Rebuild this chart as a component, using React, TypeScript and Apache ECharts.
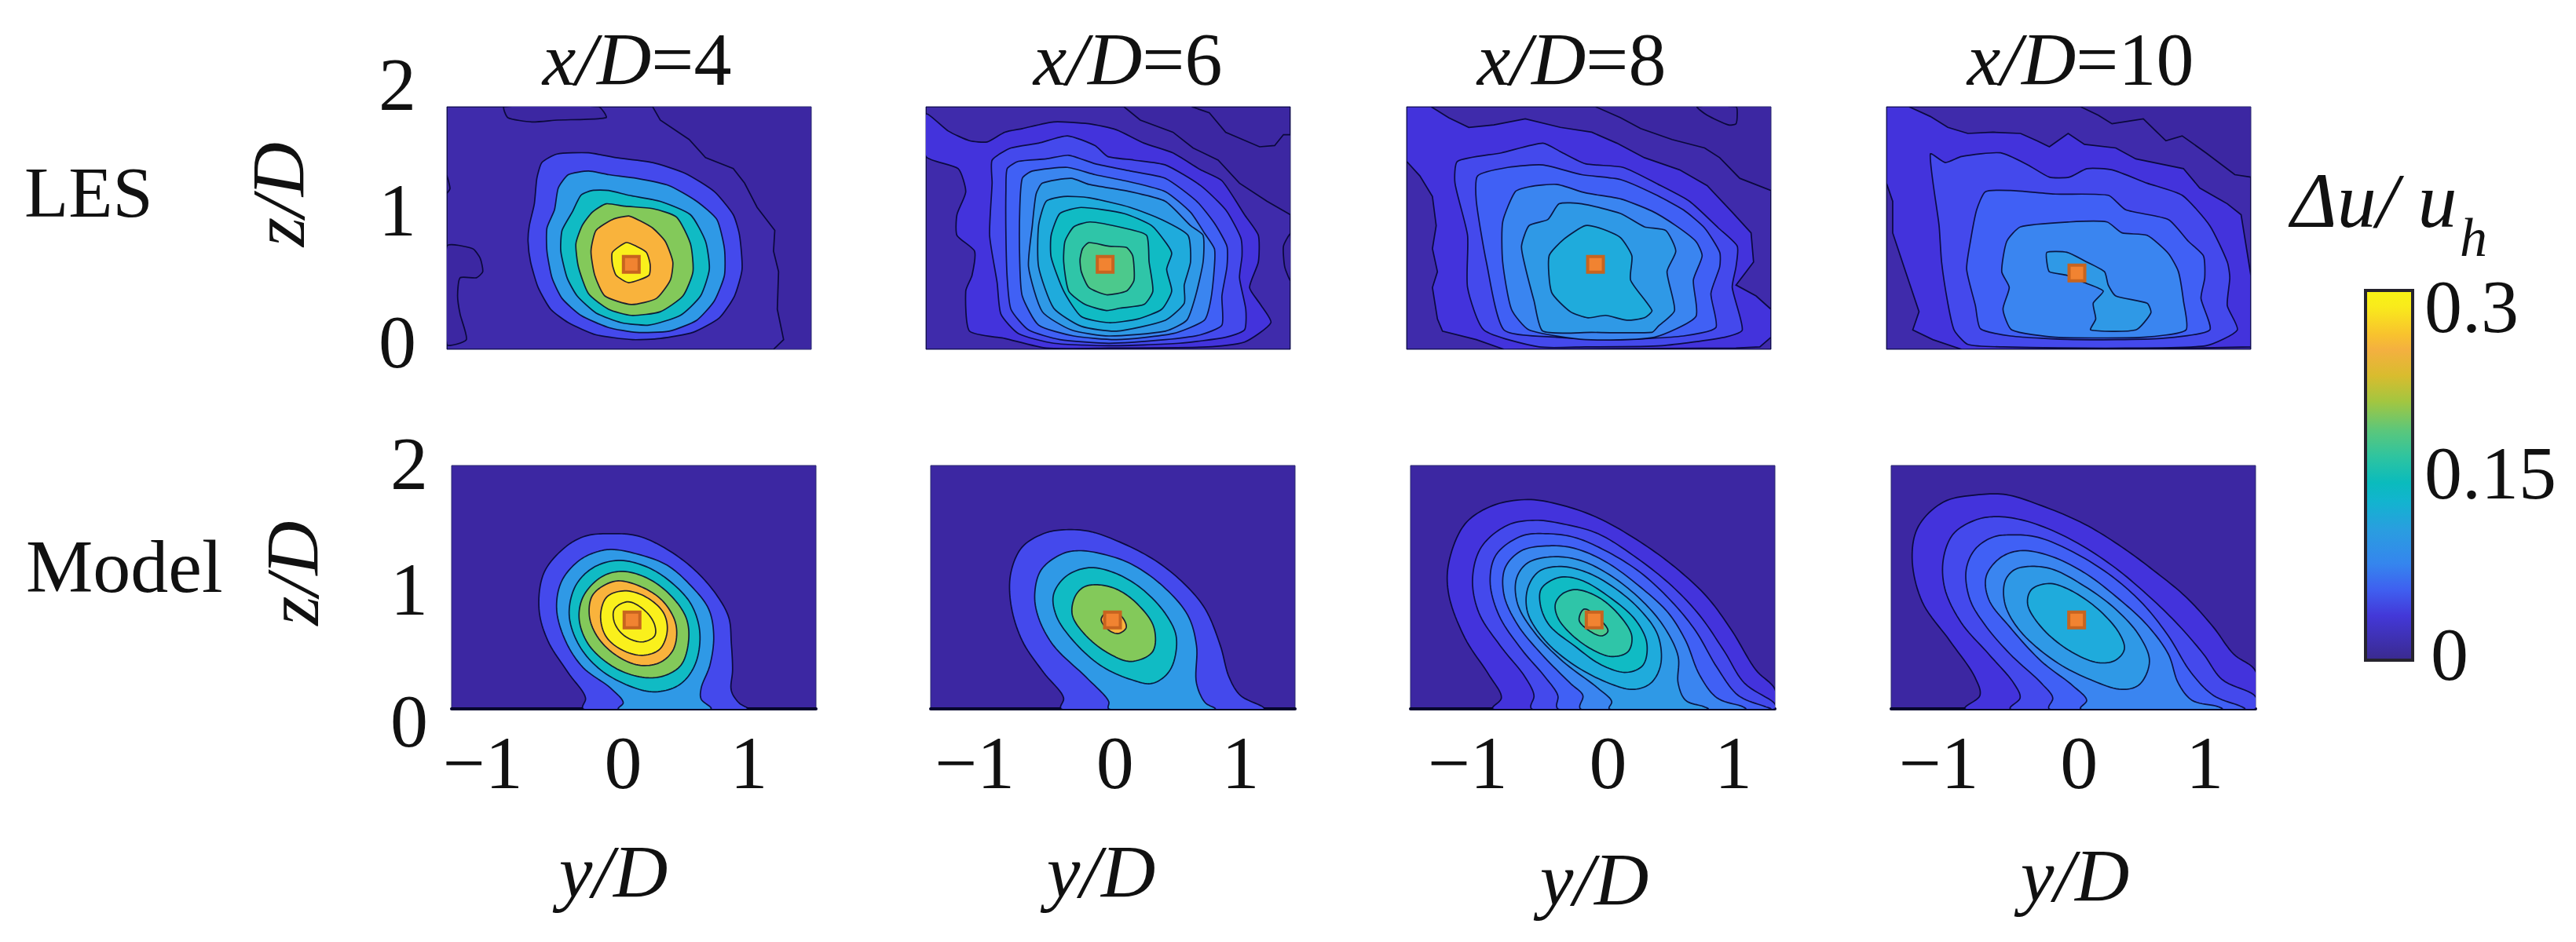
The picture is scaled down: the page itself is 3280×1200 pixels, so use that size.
import React, { useEffect, useRef } from "react";
import * as echarts from "echarts";

const FONT = "Liberation Serif";

// colour of each contour level (filled bands), low to high
const levelColors = ["#3C27A2", "#3F2BAB", "#4333DC", "#4449EC", "#4060F5", "#3A85F0", "#2F99E6", "#1FABDC", "#10BBC4", "#2FC5A8", "#4CC98C", "#83C95A", "#F9B33C", "#FAF01C"];

const colorbarOffsets = [0, 0.12, 0.19, 0.26, 0.35, 0.43, 0.48, 0.55, 0.62, 0.7, 0.77, 0.84, 0.88, 0.955, 1];
const colorbarColors = ["#3A2A8E", "#4338D8", "#3F5FF0", "#3585EE", "#2A9DE0", "#12B4CF", "#0ABBBD", "#2EC4A0", "#5AC77C", "#A3C640", "#D9BC2E", "#F4B040", "#F8C22E", "#F9EA1C", "#F8F414"];
// where the reference prints its colour-bar labels along the bar, and what they say
const colorbarLabelAt = [0.0045, 0.152, 0.287];
const colorbarLabels = ["0", "0.15", "0.3"];

const xTicks = [-1, 0, 1];
const zTicks = [0, 1, 2];
const xLimits = [[-1.425, 1.47], [-1.427, 1.475], [-1.506, 1.399], [-1.52, 1.388], [-1.366, 1.534], [-1.47, 1.436], [-1.575, 1.332], [-1.497, 1.405]];
const stations = ["4", "6", "8", "10"];
const hubs = [[0.04, 0.7], [0, 0.7], [0, 0.7], [0, 0.63], [0.07, 0.73], [-0.02, 0.73], [-0.11, 0.73], [-0.02, 0.73]];

// LES x/D=4
const les4Levels = [1, 0, 0, 0, 3, 6, 8, 11, 12, 13];
const les4 = [
  [[0.21,2],[0.27,1.89],[0.5,1.73],[0.63,1.58],[0.85,1.49],[0.94,1.37],[1.04,1.17],[1.18,0.98],[1.17,0.81],[1.21,0.64],[1.2,0.33],[1.25,0.08],[1.17,0],[-1.425,0],[-1.425,2]],
  [[-0.97,2],[-0.94,1.91],[-0.75,1.875],[-0.55,1.89],[-0.16,1.91],[-0.22,2]],
  [[-1.425,0.85],[-1.22,0.83],[-1.16,0.75],[-1.14,0.64],[-1.19,0.59],[-1.32,0.59],[-1.34,0.44],[-1.32,0.29],[-1.27,0.08],[-1.425,0.04]],
  [[-1.425,1.43],[-1.4,1.325],[-1.425,1.29]],
  [[-0.3,1.62],[-0.55,1.61],[-0.67,1.54],[-0.71,1.41],[-0.73,1.2],[-0.77,1.02],[-0.78,0.89],[-0.76,0.72],[-0.7,0.51],[-0.6,0.33],[-0.46,0.22],[-0.24,0.12],[0.05,0.08],[0.27,0.09],[0.53,0.14],[0.74,0.26],[0.86,0.44],[0.92,0.66],[0.9,0.94],[0.85,1.11],[0.7,1.3],[0.47,1.45],[0.21,1.54],[-0.08,1.58]],
  [[-0.3,1.47],[-0.46,1.44],[-0.54,1.33],[-0.57,1.15],[-0.63,1],[-0.63,0.81],[-0.59,0.59],[-0.51,0.42],[-0.36,0.28],[-0.14,0.18],[0.08,0.14],[0.34,0.15],[0.56,0.24],[0.7,0.4],[0.78,0.61],[0.78,0.83],[0.72,1.07],[0.56,1.22],[0.34,1.35],[0.08,1.41],[-0.14,1.44]],
  [[-0.27,1.31],[-0.36,1.27],[-0.43,1.13],[-0.51,0.98],[-0.52,0.81],[-0.47,0.59],[-0.39,0.44],[-0.24,0.3],[-0.04,0.22],[0.18,0.2],[0.43,0.28],[0.59,0.44],[0.66,0.66],[0.63,0.89],[0.51,1.11],[0.27,1.22],[0.02,1.27],[-0.14,1.31]],
  [[-0.16,1.2],[-0.27,1.13],[-0.35,1.02],[-0.4,0.87],[-0.38,0.68],[-0.3,0.46],[-0.14,0.33],[0.04,0.28],[0.27,0.31],[0.45,0.44],[0.53,0.64],[0.51,0.87],[0.4,1.09],[0.21,1.16],[-0.01,1.18]],
  [[0.02,1.1],[-0.11,1.07],[-0.24,0.98],[-0.28,0.81],[-0.25,0.61],[-0.17,0.44],[0.04,0.37],[0.24,0.42],[0.35,0.57],[0.37,0.72],[0.31,0.89],[0.21,1],[0.11,1.06]],
  [[0,0.88],[-0.11,0.8],[-0.11,0.7],[-0.08,0.61],[0.02,0.55],[0.18,0.61],[0.19,0.7],[0.16,0.8],[0.08,0.85]],
];

// LES x/D=6
const les6Levels = [1, 0, 0, 2, 3, 4, 5, 6, 7, 8, 9, 10];
const les6 = [
  [[0.15,2],[0.28,1.89],[0.54,1.79],[0.7,1.66],[0.9,1.56],[1.07,1.37],[1.29,1.22],[1.475,1.11],[1.475,0],[-1.427,0],[-1.427,2]],
  [[0.69,2],[0.83,1.95],[0.96,1.79],[1.23,1.67],[1.35,1.68],[1.42,1.77],[1.475,1.77],[1.475,2]],
  [[1.475,0.95],[1.42,0.85],[1.43,0.68],[1.475,0.57]],
  [[-1.427,1.94],[-1.25,1.8],[-1.08,1.72],[-0.94,1.71],[-0.8,1.79],[-0.66,1.82],[-0.41,1.875],[-0.13,1.86],[0.09,1.81],[0.31,1.7],[0.54,1.62],[0.76,1.48],[0.93,1.39],[1.11,1.11],[1.22,0.94],[1.22,0.72],[1.15,0.51],[1.23,0.38],[1.32,0.22],[1.11,0.06],[0.82,0.02],[0.03,0.01],[-0.47,0.01],[-0.8,0.09],[-1.08,0.15],[-1.11,0.48],[-1.06,0.61],[-1.04,0.81],[-1.18,0.94],[-1.18,1.11],[-1.11,1.3],[-1.17,1.49],[-1.427,1.59]],
  [[-0.9,1.56],[-0.75,1.66],[-0.53,1.7],[-0.3,1.76],[-0.08,1.68],[0.02,1.59],[0.23,1.56],[0.48,1.52],[0.76,1.35],[0.96,1.15],[1.08,0.92],[1.09,0.77],[1.07,0.59],[1.12,0.33],[1.11,0.16],[0.96,0.1],[0.59,0.05],[0.03,0.03],[-0.41,0.05],[-0.69,0.13],[-0.83,0.29],[-0.86,0.55],[-0.92,0.94],[-0.9,1.37]],
  [[-0.78,1.49],[-0.69,1.55],[-0.47,1.57],[-0.29,1.6],[-0.08,1.53],[0.2,1.47],[0.48,1.41],[0.73,1.22],[0.87,1.04],[0.97,0.85],[0.97,0.68],[0.93,0.44],[0.93,0.2],[0.76,0.12],[0.48,0.08],[0.03,0.05],[-0.36,0.08],[-0.61,0.16],[-0.75,0.33],[-0.78,0.59],[-0.79,0.94],[-0.79,1.31]],
  [[-0.66,1.41],[-0.58,1.47],[-0.3,1.5],[-0.08,1.44],[0.2,1.38],[0.48,1.3],[0.68,1.13],[0.79,0.96],[0.87,0.83],[0.87,0.68],[0.84,0.4],[0.79,0.24],[0.54,0.13],[0.09,0.08],[-0.25,0.11],[-0.53,0.2],[-0.66,0.44],[-0.68,0.72],[-0.68,1.15]],
  [[-0.55,1.28],[-0.5,1.37],[-0.27,1.41],[-0.13,1.36],[0.2,1.3],[0.48,1.22],[0.68,1.02],[0.78,0.94],[0.78,0.72],[0.72,0.44],[0.65,0.24],[0.48,0.15],[0.03,0.11],[-0.27,0.16],[-0.5,0.31],[-0.61,0.68],[-0.58,1.02]],
  [[-0.47,1.22],[-0.33,1.26],[-0.13,1.25],[0.2,1.17],[0.45,1.07],[0.66,0.94],[0.68,0.72],[0.63,0.53],[0.63,0.38],[0.48,0.24],[0.09,0.15],[-0.19,0.19],[-0.41,0.34],[-0.53,0.68],[-0.53,1.02]],
  [[-0.36,1.12],[-0.19,1.17],[0.15,1.12],[0.37,1.02],[0.49,0.87],[0.53,0.79],[0.49,0.66],[0.53,0.48],[0.45,0.33],[0.26,0.25],[0.03,0.22],[-0.19,0.27],[-0.33,0.48],[-0.43,0.76],[-0.43,0.94]],
  [[-0.25,1.01],[-0.12,1.05],[0.15,1],[0.33,0.94],[0.35,0.72],[0.38,0.48],[0.31,0.37],[0.12,0.34],[0.01,0.32],[-0.16,0.37],[-0.29,0.48],[-0.33,0.72],[-0.32,0.89]],
  [[-0.13,0.88],[0.03,0.85],[0.17,0.84],[0.22,0.77],[0.23,0.57],[0.17,0.48],[0.01,0.45],[-0.13,0.51],[-0.19,0.64],[-0.2,0.74],[-0.18,0.83]],
];

// LES x/D=8
const les8Levels = [1, 0, 2, 3, 4, 5, 6, 7];
const les8 = [
  [[0,2],[0.2,1.91],[0.36,1.82],[0.61,1.73],[0.87,1.66],[0.99,1.58],[1.15,1.41],[1.399,1.31],[1.399,0],[-1.506,0],[-1.506,2]],
  [[0.81,2],[0.89,1.93],[1.06,1.85],[1.12,1.86],[1.13,1.95],[1.12,2]],
  [[-1.506,2],[-1.31,2],[-1.17,1.91],[-1.01,1.83],[-0.81,1.85],[-0.56,1.9],[-0.28,1.83],[-0.03,1.79],[0.17,1.7],[0.39,1.58],[0.67,1.48],[0.89,1.35],[1.09,1.13],[1.24,0.96],[1.26,0.72],[1.12,0.53],[1.28,0.44],[1.399,0.33],[1.399,0.1],[1.31,0.02],[1.12,0.01],[-0.73,0],[-0.95,0.08],[-1.22,0.15],[-1.26,0.25],[-1.3,0.51],[-1.26,0.64],[-1.3,0.83],[-1.27,1.02],[-1.3,1.26],[-1.4,1.43],[-1.506,1.55]],
  [[-1.1,1.55],[-0.75,1.62],[-0.42,1.7],[-0.28,1.63],[-0.08,1.53],[0.22,1.5],[0.5,1.36],[0.75,1.22],[0.98,1],[1.13,0.85],[1.12,0.68],[1.09,0.51],[1.17,0.16],[1.03,0.1],[0.53,0.03],[-0.08,0.02],[-0.45,0.02],[-0.89,0.16],[-1.02,0.51],[-1.02,0.94],[-1.12,1.37]],
  [[-0.94,1.43],[-0.7,1.5],[-0.42,1.52],[-0.11,1.44],[0.2,1.4],[0.47,1.28],[0.7,1.15],[0.87,1],[0.99,0.8],[0.99,0.68],[0.92,0.46],[0.96,0.18],[0.7,0.11],[0.2,0.08],[-0.31,0.1],[-0.73,0.16],[-0.87,0.72],[-0.95,1.22]],
  [[-0.64,1.3],[-0.53,1.34],[-0.31,1.36],[-0.08,1.29],[0.2,1.24],[0.45,1.14],[0.64,1.02],[0.8,0.89],[0.85,0.77],[0.78,0.57],[0.8,0.27],[0.47,0.1],[-0.08,0.08],[-0.53,0.16],[-0.67,0.33],[-0.74,0.72],[-0.74,1.05]],
  [[-0.53,1.02],[-0.38,1.07],[-0.29,1.2],[-0.11,1.2],[0.2,1.12],[0.39,1.01],[0.56,0.98],[0.64,0.81],[0.57,0.64],[0.63,0.32],[0.5,0.19],[0.45,0.14],[-0.03,0.14],[-0.42,0.15],[-0.49,0.4],[-0.56,0.68],[-0.59,0.85]],
  [[-0.08,1.02],[0.06,0.99],[0.2,0.92],[0.29,0.77],[0.28,0.57],[0.45,0.32],[0.39,0.26],[0.25,0.24],[0.08,0.28],[-0.06,0.26],[-0.2,0.31],[-0.35,0.47],[-0.37,0.77],[-0.25,0.91]],
];

// LES x/D=10
const les10Levels = [1, 2, 3, 4, 5, 6];
const les10 = [
  [[0.03,2],[0.17,1.93],[0.28,1.86],[0.53,1.9],[0.61,1.82],[0.71,1.72],[0.84,1.76],[1.03,1.62],[1.26,1.44],[1.388,1.42],[1.388,0],[-1.52,0],[-1.52,2]],
  [[-1.52,2],[-1.34,2],[-1.17,1.92],[-1.03,1.83],[-0.87,1.78],[-0.67,1.79],[-0.45,1.78],[-0.32,1.72],[-0.22,1.67],[-0.07,1.78],[0.06,1.69],[0.31,1.66],[0.47,1.57],[0.85,1.49],[0.98,1.33],[1.2,1.2],[1.31,1.11],[1.388,0.61],[1.388,0.02],[0.95,0.01],[-0.92,0],[-1.15,0.08],[-1.31,0.16],[-1.26,0.31],[-1.38,0.68],[-1.47,0.96],[-1.47,1.22],[-1.52,1.37]],
  [[-1.17,1.61],[-1.05,1.54],[-0.92,1.59],[-0.61,1.62],[-0.39,1.52],[-0.22,1.42],[-0.06,1.42],[0.08,1.49],[0.28,1.48],[0.56,1.37],[0.84,1.27],[1.06,1.02],[1.2,0.72],[1.22,0.59],[1.2,0.36],[1.28,0.16],[1.03,0.03],[0.39,0.01],[-0.59,0.02],[-0.87,0.04],[-0.98,0.16],[-1.03,0.38],[-1.08,0.72],[-1.1,1.02]],
  [[-0.73,1.3],[-0.53,1.31],[-0.17,1.28],[0.25,1.27],[0.39,1.15],[0.73,1.07],[0.89,0.89],[1.01,0.77],[1.02,0.59],[0.99,0.42],[1.06,0.16],[0.67,0.09],[-0.03,0.08],[-0.53,0.11],[-0.77,0.17],[-0.81,0.36],[-0.88,0.66],[-0.85,0.89],[-0.8,1.15]],
  [[-0.45,1.01],[-0.06,1.05],[0.24,1.05],[0.36,0.96],[0.56,0.94],[0.73,0.79],[0.81,0.64],[0.85,0.4],[0.87,0.16],[0.53,0.1],[-0.17,0.1],[-0.52,0.16],[-0.59,0.33],[-0.54,0.51],[-0.6,0.64],[-0.56,0.89]],
  [[-0.24,0.8],[-0.08,0.8],[0.06,0.73],[0.22,0.64],[0.25,0.53],[0.31,0.44],[0.56,0.38],[0.59,0.3],[0.47,0.16],[0.11,0.16],[0.15,0.25],[0.13,0.38],[0.21,0.48],[0.06,0.55],[-0.08,0.61],[-0.22,0.64],[-0.24,0.72]],
];

// Model x/D=4
const model4Levels = [3, 6, 8, 11, 12, 13, 13];
const model4 = [
  [[-0.1,1.44],[0.12,1.42],[0.35,1.31],[0.57,1.14],[0.74,0.94],[0.84,0.75],[0.86,0.54],[0.87,0.32],[0.86,0.15],[0.92,0.05],[0.99,0],[-0.32,0],[-0.3,0.09],[-0.44,0.3],[-0.6,0.56],[-0.67,0.82],[-0.63,1.12],[-0.46,1.33],[-0.3,1.42]],
  [[-0.09,1.31],[0.12,1.27],[0.35,1.18],[0.54,1.01],[0.68,0.82],[0.72,0.6],[0.69,0.36],[0.62,0.17],[0.62,0.08],[0.7,0],[-0.04,0],[0,0.05],[-0.1,0.17],[-0.32,0.34],[-0.46,0.56],[-0.53,0.82],[-0.49,1.05],[-0.35,1.22],[-0.21,1.29]],
  [[-0.04,1.22],[0.18,1.17],[0.37,1.05],[0.54,0.86],[0.61,0.62],[0.57,0.36],[0.45,0.2],[0.26,0.14],[0.07,0.18],[-0.18,0.32],[-0.35,0.52],[-0.43,0.77],[-0.38,1.01],[-0.24,1.16]],
  [[-0.02,1.13],[0.18,1.08],[0.37,0.94],[0.5,0.75],[0.52,0.56],[0.46,0.36],[0.32,0.27],[0.15,0.26],[-0.07,0.34],[-0.27,0.52],[-0.35,0.73],[-0.32,0.92],[-0.18,1.08]],
  [[-0.06,1.05],[0.15,1],[0.32,0.88],[0.42,0.69],[0.4,0.49],[0.29,0.38],[0.12,0.36],[-0.07,0.45],[-0.21,0.6],[-0.27,0.77],[-0.24,0.94]],
  [[0.01,0.97],[0.18,0.92],[0.32,0.79],[0.35,0.64],[0.29,0.49],[0.15,0.44],[-0.02,0.49],[-0.14,0.6],[-0.18,0.77],[-0.13,0.92]],
  [[0.04,0.88],[0.18,0.8],[0.25,0.69],[0.25,0.6],[0.15,0.55],[0.01,0.6],[-0.07,0.71],[-0.07,0.82]],
];

// Model x/D=6
const model6Levels = [3, 6, 8, 11, 12];
const model6 = [
  [[-0.43,1.47],[-0.21,1.46],[0.04,1.37],[0.32,1.22],[0.55,1.03],[0.72,0.82],[0.84,0.52],[0.91,0.26],[1,0.11],[1.19,0],[-0.43,0],[-0.41,0.09],[-0.57,0.3],[-0.74,0.56],[-0.83,0.86],[-0.83,1.12],[-0.74,1.33],[-0.57,1.44]],
  [[-0.29,1.3],[-0.09,1.27],[0.13,1.19],[0.38,1.01],[0.58,0.77],[0.65,0.52],[0.65,0.21],[0.72,0.05],[0.8,0],[-0.05,0],[-0.05,0.06],[-0.23,0.26],[-0.49,0.52],[-0.61,0.75],[-0.64,0.94],[-0.59,1.14],[-0.43,1.27]],
  [[-0.21,1.16],[-0.01,1.12],[0.21,0.99],[0.41,0.77],[0.49,0.58],[0.44,0.32],[0.3,0.21],[0.13,0.24],[-0.12,0.36],[-0.35,0.58],[-0.47,0.77],[-0.49,0.94],[-0.39,1.09]],
  [[-0.14,1.02],[0.02,0.98],[0.18,0.86],[0.31,0.67],[0.3,0.47],[0.13,0.39],[-0.04,0.45],[-0.23,0.6],[-0.34,0.77],[-0.32,0.92],[-0.25,1]],
  [[-0.08,0.78],[0.04,0.77],[0.09,0.67],[0.03,0.62],[-0.04,0.64],[-0.11,0.73]],
];

// Model x/D=8
const model8Levels = [2, 3, 4, 5, 6, 7, 8, 9, 10];
const model8 = [
  [[-0.64,1.72],[-0.39,1.68],[-0.08,1.57],[0.26,1.37],[0.54,1.16],[0.79,0.92],[0.99,0.64],[1.18,0.32],[1.332,0.16],[1.332,0],[-0.92,0],[-0.85,0.09],[-0.95,0.28],[-1.14,0.58],[-1.27,0.94],[-1.27,1.2],[-1.14,1.52],[-0.92,1.67]],
  [[-0.58,1.55],[-0.36,1.52],[-0.08,1.44],[0.23,1.24],[0.51,1.01],[0.73,0.77],[0.93,0.47],[1.09,0.21],[1.332,0.04],[1.332,0],[-0.61,0],[-0.59,0.11],[-0.66,0.26],[-0.86,0.52],[-1.03,0.79],[-1.08,1.07],[-1.01,1.33],[-0.8,1.51]],
  [[-0.5,1.44],[-0.27,1.41],[-0.02,1.3],[0.26,1.12],[0.51,0.88],[0.7,0.64],[0.87,0.34],[1.04,0.11],[1.25,0.02],[1.3,0],[-0.4,0],[-0.4,0.11],[-0.5,0.26],[-0.69,0.49],[-0.87,0.77],[-0.94,1.05],[-0.89,1.27],[-0.69,1.42]],
  [[-0.47,1.34],[-0.27,1.32],[-0.02,1.21],[0.26,1],[0.48,0.79],[0.62,0.56],[0.73,0.28],[0.87,0.09],[1.07,0.02],[1.1,0],[-0.22,0],[-0.2,0.11],[-0.3,0.21],[-0.53,0.45],[-0.72,0.69],[-0.83,0.94],[-0.82,1.16],[-0.69,1.3]],
  [[-0.44,1.25],[-0.22,1.22],[0.03,1.09],[0.28,0.88],[0.45,0.67],[0.56,0.43],[0.56,0.21],[0.62,0.07],[0.76,0.02],[0.8,0],[0.01,0],[0.03,0.06],[-0.08,0.17],[-0.36,0.39],[-0.58,0.62],[-0.72,0.86],[-0.73,1.07],[-0.64,1.2]],
  [[-0.39,1.17],[-0.19,1.13],[0.03,1.01],[0.26,0.81],[0.4,0.6],[0.42,0.36],[0.34,0.21],[0.2,0.16],[0.01,0.21],[-0.27,0.36],[-0.5,0.56],[-0.64,0.79],[-0.64,0.99],[-0.55,1.13]],
  [[-0.39,1.08],[-0.22,1.06],[0.01,0.92],[0.22,0.73],[0.31,0.54],[0.28,0.36],[0.15,0.3],[-0.05,0.36],[-0.27,0.52],[-0.47,0.69],[-0.54,0.86],[-0.53,0.99]],
  [[-0.26,0.98],[-0.08,0.92],[0.09,0.77],[0.19,0.6],[0.16,0.47],[0.03,0.43],[-0.13,0.49],[-0.3,0.62],[-0.4,0.75],[-0.42,0.86],[-0.37,0.94]],
  [[-0.19,0.82],[-0.08,0.75],[0,0.64],[-0.05,0.6],[-0.16,0.65],[-0.23,0.73]],
];

// Model x/D=10
const model10Levels = [2, 3, 4, 5, 6, 7];
const model10 = [
  [[-0.8,1.76],[-0.58,1.76],[-0.3,1.67],[0.04,1.52],[0.34,1.33],[0.59,1.14],[0.85,0.92],[1.07,0.67],[1.23,0.45],[1.405,0.31],[1.405,0],[-0.91,0],[-0.79,0.11],[-0.83,0.26],[-1.03,0.56],[-1.25,0.88],[-1.33,1.24],[-1.28,1.5],[-1.08,1.7]],
  [[-0.66,1.58],[-0.41,1.54],[-0.08,1.4],[0.26,1.18],[0.54,0.94],[0.79,0.69],[0.99,0.45],[1.14,0.24],[1.405,0.1],[1.405,0],[-0.55,0],[-0.47,0.09],[-0.52,0.21],[-0.72,0.45],[-0.94,0.71],[-1.07,0.99],[-1.08,1.24],[-1,1.44],[-0.83,1.55]],
  [[-0.55,1.43],[-0.33,1.41],[-0.05,1.29],[0.26,1.09],[0.51,0.86],[0.71,0.6],[0.89,0.3],[1.07,0.11],[1.29,0.02],[1.32,0],[-0.24,0],[-0.21,0.09],[-0.3,0.21],[-0.55,0.45],[-0.75,0.69],[-0.87,0.9],[-0.9,1.14],[-0.83,1.31],[-0.69,1.41]],
  [[-0.47,1.3],[-0.24,1.26],[0.04,1.12],[0.32,0.9],[0.54,0.69],[0.71,0.45],[0.79,0.21],[0.9,0.07],[1.1,0.02],[1.14,0],[0.01,0],[0.06,0.07],[-0.05,0.19],[-0.3,0.39],[-0.55,0.67],[-0.72,0.9],[-0.74,1.09],[-0.63,1.24]],
  [[-0.41,1.17],[-0.22,1.15],[0.04,1.01],[0.29,0.82],[0.48,0.6],[0.56,0.39],[0.48,0.2],[0.34,0.16],[0.09,0.24],[-0.19,0.39],[-0.47,0.64],[-0.59,0.86],[-0.59,1.05],[-0.52,1.14]],
  [[-0.24,1.03],[-0.08,0.98],[0.15,0.82],[0.32,0.62],[0.36,0.49],[0.29,0.4],[0.15,0.38],[-0.08,0.48],[-0.3,0.67],[-0.41,0.86],[-0.38,0.98]],
];

const panelContours = [les4, les6, les8, les10, model4, model6, model8, model10];
const panelLevels = [les4Levels, les6Levels, les8Levels, les10Levels, model4Levels, model6Levels, model8Levels, model10Levels];

const gridLefts = [569, 1179, 1791, 2402, 575, 1185, 1796, 2408];
const titleCentres = [806, 1431, 1996, 2644];
const yDNudge = [[1120, -26], [1120, -15], [1130, 2], [1125, 2]];

const font = (extra: any = {}) => ({ fontFamily: FONT, fontSize: 96, fontWeight: "normal", color: "#111", ...extra });

// centripetal Catmull-Rom through a closed ring of pixel points, for the smooth model contours
function smoothRing(pts: number[][]) {
  const n = pts.length;
  const out: number[][] = [];
  const step = (a: number[], b: number[]) => Math.max(1e-3, Math.sqrt(Math.hypot(b[0] - a[0], b[1] - a[1])));
  const mix = (a: number[], b: number[], ta: number, tb: number, t: number) => {
    const w = (t - ta) / (tb - ta);
    return [a[0] + (b[0] - a[0]) * w, a[1] + (b[1] - a[1]) * w];
  };
  for (let i = 0; i < n; i++) {
    const p0 = pts[(i - 1 + n) % n];
    const p1 = pts[i];
    const p2 = pts[(i + 1) % n];
    const p3 = pts[(i + 2) % n];
    const t0 = 0;
    const t1 = t0 + step(p0, p1);
    const t2 = t1 + step(p1, p2);
    const t3 = t2 + step(p2, p3);
    for (let s = 0; s < 10; s++) {
      const t = t1 + ((t2 - t1) * s) / 10;
      const a1 = mix(p0, p1, t0, t1, t);
      const a2 = mix(p1, p2, t1, t2, t);
      const a3 = mix(p2, p3, t2, t3, t);
      const b1 = mix(a1, a2, t0, t2, t);
      const b2 = mix(a2, a3, t1, t3, t);
      out.push(mix(b1, b2, t1, t2, t));
    }
  }
  return out;
}

function buildOption() {
  const grid: any[] = [];
  const xAxis: any[] = [];
  const yAxis: any[] = [];
  const series: any[] = [];
  const title: any[] = [];

  panelContours.forEach((contours, p) => {
    const model = p >= 4;
    const [xMin, xMax] = xLimits[p];
    grid.push({
      left: gridLefts[p], top: model ? 593 : 136, width: 464, height: model ? 310 : 309,
      show: true, backgroundColor: levelColors[0], borderColor: "#2A2A6E", borderWidth: 1,
    });
    const yd = yDNudge[p - 4];
    xAxis.push({
      gridIndex: p, type: "value", min: xMin, max: xMax,
      splitLine: { show: false }, axisTick: { show: false },
      axisLine: { show: model, onZero: false, lineStyle: { color: "#06062E", width: 4 } },
      axisLabel: model ? {
        show: true, customValues: xTicks, margin: 20, hideOverlap: false,
        formatter: (v: number) => (v === -1 ? "{m|\u22121}" : `{n|${v}}`),
        rich: { m: font({ padding: [0, 38, 0, 0] }), n: font() },
      } : { show: false },
      name: model ? "y/D" : "",
      nameLocation: "middle",
      nameGap: model ? yd[0] - 903 - 58 : 0,
      nameTextStyle: model ? font({ fontStyle: "italic", padding: yd[1] < 0 ? [0, -2 * yd[1], 0, 0] : [0, 0, 0, 2 * yd[1]] }) : undefined,
    });
    const first = p % 4 === 0;
    const rowOffsets: any = model
      ? { z0: { padding: [30, 0, 0, 0] }, z1: { padding: [4, 0, 0, 0] }, z2: { padding: [0, 0, 6, 0] } }
      : { z0: { padding: [0, 0, 20, 0] }, z1: { padding: [0, 0, 46, 0] }, z2: { padding: [0, 0, 58, 0] } };
    const rich: any = {};
    Object.keys(rowOffsets).forEach((k) => (rich[k] = font(rowOffsets[k])));
    yAxis.push({
      gridIndex: p, type: "value", min: zTicks[0], max: zTicks[2],
      splitLine: { show: false }, axisTick: { show: false }, axisLine: { show: false },
      axisLabel: first ? {
        show: true, customValues: zTicks, margin: model ? 30 : 39, hideOverlap: false,
        formatter: (v: number) => `{z${v}|${v}}`, rich,
      } : { show: false },
      name: first ? "z/D" : "",
      nameLocation: "middle",
      nameGap: model ? 155 : 167,
      nameTextStyle: first ? font({ fontStyle: "italic", padding: model ? [0, 0, 0, 36] : [0, 0, 0, 86] }) : undefined,
    });

    const levels = panelLevels[p];
    series.push({
      type: "custom", xAxisIndex: p, yAxisIndex: p, coordinateSystem: "cartesian2d", clip: true,
      data: contours.map((_, i) => [i]),
      renderItem: (_params: any, api: any) => {
        const i = api.value(0);
        const pts = contours[i];
        const sharp = pts.some((q) => (q[0] === xMin || q[0] === xMax) && (q[1] === 0 || q[1] === 2));
        const px = pts.map((q) => api.coord(q));
        return {
          type: "polygon",
          shape: model ? { points: smoothRing(px) } : { points: px, smooth: sharp ? 0 : 0.2 },
          style: { fill: levelColors[levels[i]], stroke: "rgba(2,4,40,0.85)", lineWidth: 1.7 },
        };
      },
    });
    series.push({
      type: "scatter", xAxisIndex: p, yAxisIndex: p, data: [hubs[p]], symbol: "rect", symbolSize: 20, z: 5,
      itemStyle: { color: "#F18331", borderColor: "#C7641F", borderWidth: 4, opacity: 1 },
    });
  });

  // colour bar
  grid.push({ left: 3012, top: 370, width: 60, height: 471 });
  xAxis.push({ gridIndex: 8, type: "value", min: 0, max: 1, show: false });
  yAxis.push({
    gridIndex: 8, type: "value", position: "right", min: 0, max: 0.3,
    splitLine: { show: false }, axisTick: { show: false }, axisLine: { show: false },
    axisLabel: {
      show: true, margin: 15, hideOverlap: false, customValues: colorbarLabelAt,
      formatter: (v: number) => {
        const text = colorbarLabels[colorbarLabelAt.indexOf(v)];
        return text === "0" ? `{a|${text}}` : `{b|${text}}`;
      },
      rich: { a: font({ padding: [0, 0, 0, 8] }), b: font() },
    },
  });
  series.push({
    type: "custom", xAxisIndex: 8, yAxisIndex: 8, coordinateSystem: "cartesian2d",
    data: [[0]],
    renderItem: (_p: any, api: any) => {
      const a = api.coord([0, 0.3]);
      const b = api.coord([1, 0]);
      return {
        type: "rect",
        shape: { x: a[0], y: a[1], width: b[0] - a[0], height: b[1] - a[1] },
        style: {
          fill: new echarts.graphic.LinearGradient(0, 1, 0, 0, colorbarOffsets.map((o, i) => ({ offset: o, color: colorbarColors[i] }))),
          stroke: "#26242E", lineWidth: 4,
        },
      };
    },
  });

  stations.forEach((s, i) => {
    title.push({
      text: `{i|x/D}{r|=${s}}`, left: titleCentres[i], top: 22, textAlign: "center",
      textStyle: { rich: { i: font({ fontStyle: "italic" }), r: font() } },
    });
  });
  title.push({ text: "LES", left: 26, top: 194, textStyle: font({ fontSize: 92 }) });
  title.push({ text: "Model", left: 28, top: 668, textStyle: font({ fontSize: 96 }) });
  title.push({ text: "\u0394u/ u", left: 2912, top: 200, textStyle: font({ fontSize: 100, fontStyle: "italic" }) });
  title.push({ text: "h", left: 3127, top: 262, textStyle: font({ fontSize: 70, fontStyle: "italic" }) });

  return { animation: false, backgroundColor: "#fff", grid, xAxis, yAxis, series, title };
}

export default function App() {
  const ref = useRef<HTMLDivElement>(null);
  useEffect(() => {
    document.body.style.margin = "0";
    const chart = echarts.init(ref.current!, undefined, { renderer: "svg" });
    chart.setOption(buildOption() as any);
    return () => chart.dispose();
  }, []);
  return <div ref={ref} style={{ position: "absolute", left: 0, top: 0, width: 3280, height: 1200 }} />;
}
